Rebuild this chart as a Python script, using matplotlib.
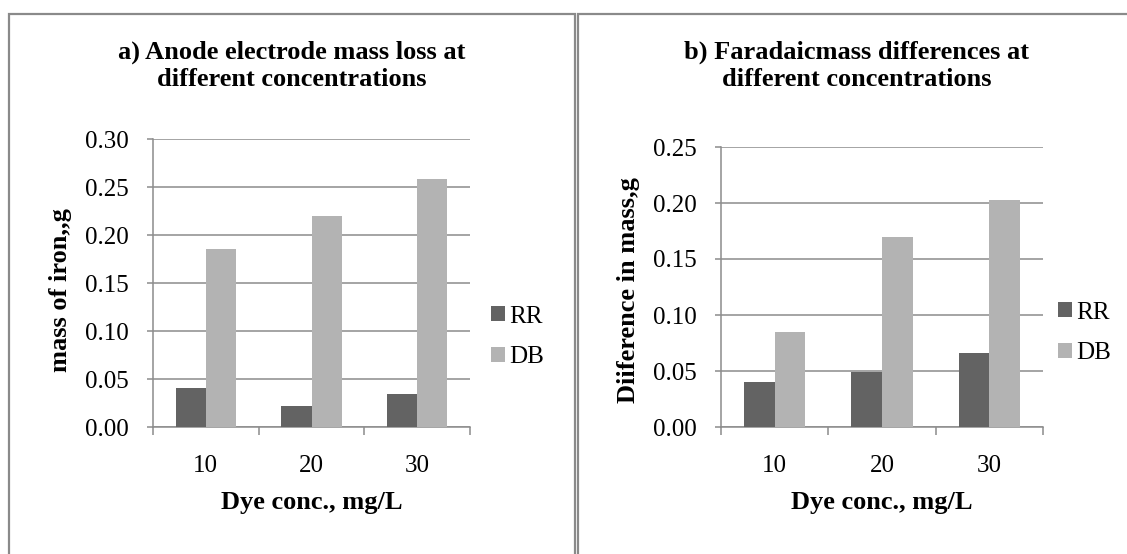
import numpy as np
import matplotlib
matplotlib.use("Agg")
import matplotlib.pyplot as plt
from matplotlib.patches import Rectangle

plt.rcParams['font.family'] = ['Liberation Serif', 'DejaVu Serif']

# data
conc = ['10', '20', '30']
series = ['RR', 'DB']
mass_loss_rr = [0.041, 0.022, 0.034]
mass_loss_db = [0.185, 0.220, 0.258]
faradaic_rr = [0.040, 0.049, 0.066]
faradaic_db = [0.085, 0.170, 0.203]

W, H = 1127, 554
fig = plt.figure(figsize=(W / 100, H / 100), dpi=100)


def fx(x):
    return x / W


def fy(y):
    return 1 - y / H


# panel frames (grey borders like the screenshot)
for x0, x1 in [(9, 574.5), (578, 1140)]:
    fig.patches.append(Rectangle((fx(x0), fy(560)), fx(x1 - x0), fy(14) - fy(560),
                                 transform=fig.transFigure, fill=False,
                                 edgecolor='#8a8a8a', lw=1.6))

c_rr = '#636363'
c_db = '#b3b3b3'
grid_c = '#8c8c8c'
w = 1 / 3.5
fs_bold = 19
fs_norm = 18


def panel(box, rr, db, ymax, title, tcx, ylab, ylx, leg_x, leg_y):
    ax = fig.add_axes(box)
    x = np.arange(len(conc))
    b1 = ax.bar(x - w / 2, rr, w, color=c_rr, label=series[0], zorder=3)
    b2 = ax.bar(x + w / 2, db, w, color=c_db, label=series[1], zorder=3)
    ax.set_xlim(-0.5, len(conc) - 0.5)
    ax.set_ylim(0, ymax)
    ax.set_yticks(np.arange(0, ymax + 0.001, 0.05))
    ax.set_yticklabels(['%.2f' % v for v in np.arange(0, ymax + 0.001, 0.05)])
    ax.yaxis.grid(True, color=grid_c, lw=1.1, zorder=0)
    ax.set_axisbelow(True)
    for s in ['top', 'right']:
        ax.spines[s].set_visible(False)
    for s in ['left', 'bottom']:
        ax.spines[s].set_color(grid_c)
        ax.spines[s].set_linewidth(1.1)
    ax.set_xticks(x)
    ax.set_xticklabels(conc)
    ax.set_xticks(np.arange(-0.5, len(conc)), minor=True)
    ax.tick_params(axis='x', which='major', length=0, pad=20, labelsize=fs_norm)
    ax.tick_params(axis='x', which='minor', length=6, color=grid_c, width=1.1)
    ax.tick_params(axis='y', length=4.5, color=grid_c, width=1.1, pad=13, labelsize=fs_norm)

    fig.text(fx(tcx), fy(66), title, ha='center', va='center', fontsize=fs_bold,
             fontweight='bold', linespacing=1.25)
    fig.text(fx(ylx), fy(290), ylab, ha='center', va='center', rotation=90,
             fontsize=fs_bold, fontweight='bold')
    axc = (box[0] + box[2] / 2)
    fig.text(axc, fy(502), 'Dye conc., mg/L', ha='center', va='center',
             fontsize=fs_bold, fontweight='bold')
    ax.legend(handles=[b1, b2], loc='center left', bbox_to_anchor=(fx(leg_x), fy(leg_y)),
              bbox_transform=fig.transFigure, frameon=False, fontsize=fs_norm,
              handlelength=0.56, handleheight=0.56, handletextpad=0.15,
              labelspacing=0.75, borderpad=0, borderaxespad=0)
    return ax


panel([fx(153), fy(427), fx(470 - 153), fy(139) - fy(427)],
      mass_loss_rr, mass_loss_db, 0.30,
      'a) Anode electrode mass loss at\ndifferent concentrations', 292,
      'mass of iron,,g', 61, 491, 337)

panel([fx(721), fy(427), fx(1043 - 721), fy(147) - fy(427)],
      faradaic_rr, faradaic_db, 0.25,
      'b) Faradaicmass differences at\ndifferent concentrations', 857,
      'Diiference in mass,g', 628, 1058, 333)

fig.savefig('out.png', dpi=100)
